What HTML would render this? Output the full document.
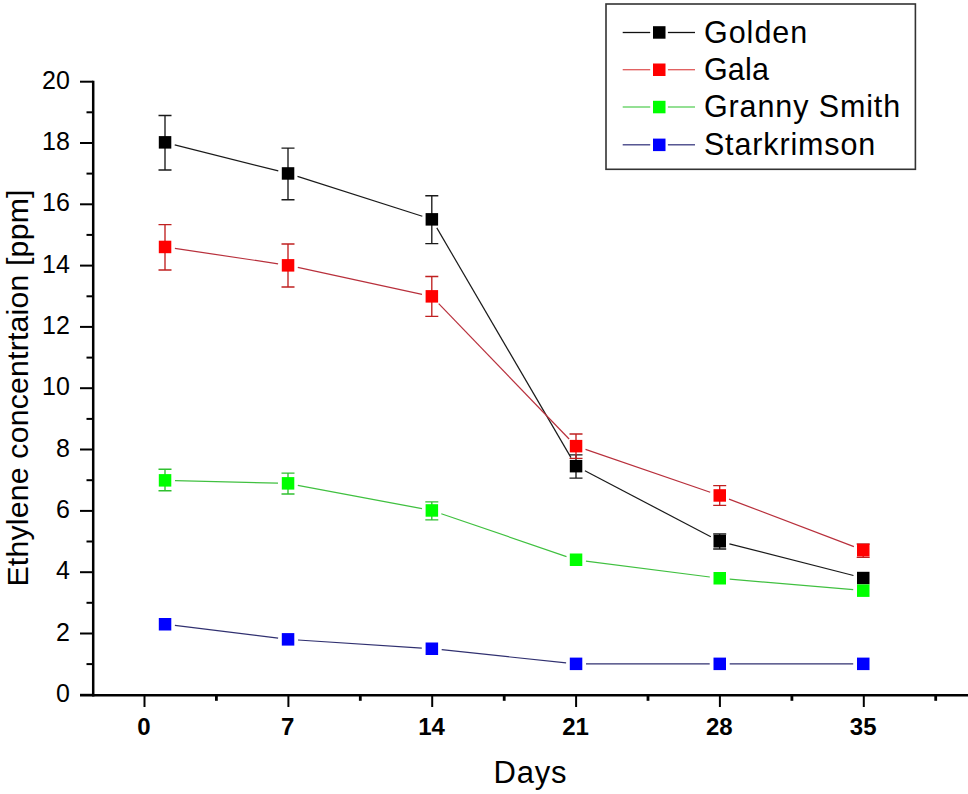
<!DOCTYPE html><html><head><meta charset="utf-8"><style>
html,body{margin:0;padding:0;background:#fff;}
body{width:968px;height:794px;overflow:hidden;position:relative;}
svg{position:absolute;left:0;top:0;}
text{font-family:"Liberation Sans",sans-serif;}
</style></head><body>
<svg width="968" height="794" viewBox="0 0 968 794">
<g stroke="#000" fill="none">
<line x1="93.2" y1="80.8" x2="93.2" y2="696.6" stroke-width="2.5"/>
<line x1="80" y1="695.2" x2="968" y2="695.2" stroke-width="2.6"/>
<line x1="80" y1="694.8" x2="93.2" y2="694.8" stroke-width="2"/>
<line x1="86.5" y1="664.1" x2="93.2" y2="664.1" stroke-width="2"/>
<line x1="80" y1="633.5" x2="93.2" y2="633.5" stroke-width="2"/>
<line x1="86.5" y1="602.8" x2="93.2" y2="602.8" stroke-width="2"/>
<line x1="80" y1="572.2" x2="93.2" y2="572.2" stroke-width="2"/>
<line x1="86.5" y1="541.5" x2="93.2" y2="541.5" stroke-width="2"/>
<line x1="80" y1="510.9" x2="93.2" y2="510.9" stroke-width="2"/>
<line x1="86.5" y1="480.2" x2="93.2" y2="480.2" stroke-width="2"/>
<line x1="80" y1="449.5" x2="93.2" y2="449.5" stroke-width="2"/>
<line x1="86.5" y1="418.9" x2="93.2" y2="418.9" stroke-width="2"/>
<line x1="80" y1="388.2" x2="93.2" y2="388.2" stroke-width="2"/>
<line x1="86.5" y1="357.6" x2="93.2" y2="357.6" stroke-width="2"/>
<line x1="80" y1="326.9" x2="93.2" y2="326.9" stroke-width="2"/>
<line x1="86.5" y1="296.3" x2="93.2" y2="296.3" stroke-width="2"/>
<line x1="80" y1="265.6" x2="93.2" y2="265.6" stroke-width="2"/>
<line x1="86.5" y1="234.9" x2="93.2" y2="234.9" stroke-width="2"/>
<line x1="80" y1="204.3" x2="93.2" y2="204.3" stroke-width="2"/>
<line x1="86.5" y1="173.6" x2="93.2" y2="173.6" stroke-width="2"/>
<line x1="80" y1="143.0" x2="93.2" y2="143.0" stroke-width="2"/>
<line x1="86.5" y1="112.3" x2="93.2" y2="112.3" stroke-width="2"/>
<line x1="80" y1="81.7" x2="93.2" y2="81.7" stroke-width="2"/>
<line x1="144.5" y1="694.8" x2="144.5" y2="707" stroke-width="2"/>
<line x1="216.4" y1="694.8" x2="216.4" y2="700.8" stroke-width="2.8"/>
<line x1="288.4" y1="694.8" x2="288.4" y2="707" stroke-width="2"/>
<line x1="360.3" y1="694.8" x2="360.3" y2="700.8" stroke-width="2.8"/>
<line x1="432.2" y1="694.8" x2="432.2" y2="707" stroke-width="2"/>
<line x1="504.2" y1="694.8" x2="504.2" y2="700.8" stroke-width="2.8"/>
<line x1="576.1" y1="694.8" x2="576.1" y2="707" stroke-width="2"/>
<line x1="648.0" y1="694.8" x2="648.0" y2="700.8" stroke-width="2.8"/>
<line x1="719.9" y1="694.8" x2="719.9" y2="707" stroke-width="2"/>
<line x1="791.9" y1="694.8" x2="791.9" y2="700.8" stroke-width="2.8"/>
<line x1="863.8" y1="694.8" x2="863.8" y2="707" stroke-width="2"/>
<line x1="935.7" y1="694.8" x2="935.7" y2="700.8" stroke-width="2.8"/>
</g>
<g font-size="25" text-anchor="end" fill="#000">
<text x="69.8" y="701.8">0</text>
<text x="69.8" y="640.5">2</text>
<text x="69.8" y="579.2">4</text>
<text x="69.8" y="517.9">6</text>
<text x="69.8" y="456.5">8</text>
<text x="69.8" y="395.2">10</text>
<text x="69.8" y="333.9">12</text>
<text x="69.8" y="272.6">14</text>
<text x="69.8" y="211.3">16</text>
<text x="69.8" y="150.0">18</text>
<text x="69.8" y="88.7">20</text>
</g>
<g font-size="24" font-weight="bold" text-anchor="middle" fill="#000">
<text x="143.9" y="735">0</text>
<text x="287.8" y="735">7</text>
<text x="431.6" y="735">14</text>
<text x="575.5" y="735">21</text>
<text x="719.3" y="735">28</text>
<text x="863.2" y="735">35</text>
</g>
<text x="493.5" y="782.7" font-size="31" textLength="73" lengthAdjust="spacing">Days</text>
<text transform="translate(28.4,586.5) rotate(-90)" font-size="30.3" textLength="397" lengthAdjust="spacing">Ethylene concentrtaion [ppm]</text>
<g>
<line x1="174.7" y1="144.8" x2="278.3" y2="170.9" stroke="#1a1a1a" stroke-width="1.2"/>
<line x1="297.5" y1="176.4" x2="422.3" y2="216.3" stroke="#1a1a1a" stroke-width="1.2"/>
<line x1="436.8" y1="227.9" x2="571.0" y2="457.6" stroke="#1a1a1a" stroke-width="1.2"/>
<line x1="584.9" y1="470.8" x2="710.8" y2="536.7" stroke="#1a1a1a" stroke-width="1.2"/>
<line x1="729.4" y1="543.8" x2="853.5" y2="575.5" stroke="#1a1a1a" stroke-width="1.2"/>
<path d="M165.0 115.5V170.0M158.5 115.5H171.5M158.5 170.0H171.5" stroke="#1a1a1a" stroke-width="1.35" fill="none"/>
<rect x="158.8" y="136.1" width="12.5" height="12.5" fill="#000000"/>
<path d="M288.0 148.1V199.7M281.5 148.1H294.5M281.5 199.7H294.5" stroke="#1a1a1a" stroke-width="1.35" fill="none"/>
<rect x="281.8" y="167.2" width="12.5" height="12.5" fill="#000000"/>
<path d="M431.8 195.7V243.6M425.3 195.7H438.3M425.3 243.6H438.3" stroke="#1a1a1a" stroke-width="1.35" fill="none"/>
<rect x="425.6" y="213.1" width="12.5" height="12.5" fill="#000000"/>
<path d="M576.0 454.8V478.1M569.5 454.8H582.5M569.5 478.1H582.5" stroke="#1a1a1a" stroke-width="1.35" fill="none"/>
<rect x="569.8" y="459.9" width="12.5" height="12.5" fill="#000000"/>
<path d="M719.7 534.0V549.0M713.2 534.0H726.2M713.2 549.0H726.2" stroke="#1a1a1a" stroke-width="1.35" fill="none"/>
<rect x="713.5" y="535.0" width="12.5" height="12.5" fill="#000000"/>
<rect x="857.0" y="571.8" width="12.5" height="12.5" fill="#000000"/>
</g>
<g>
<line x1="174.9" y1="248.4" x2="278.1" y2="263.8" stroke="#b8303c" stroke-width="1.2"/>
<line x1="297.8" y1="267.4" x2="422.0" y2="294.3" stroke="#b8303c" stroke-width="1.2"/>
<line x1="438.7" y1="303.6" x2="569.1" y2="439.0" stroke="#b8303c" stroke-width="1.2"/>
<line x1="585.5" y1="449.4" x2="710.2" y2="492.3" stroke="#b8303c" stroke-width="1.2"/>
<line x1="729.0" y1="499.1" x2="853.9" y2="546.6" stroke="#b8303c" stroke-width="1.2"/>
<path d="M165.0 224.6V270.0M158.5 224.6H171.5M158.5 270.0H171.5" stroke="#c02020" stroke-width="1.35" fill="none"/>
<rect x="158.8" y="240.7" width="12.5" height="12.5" fill="#ff0000"/>
<path d="M288.0 244.0V287.0M281.5 244.0H294.5M281.5 287.0H294.5" stroke="#c02020" stroke-width="1.35" fill="none"/>
<rect x="281.8" y="259.1" width="12.5" height="12.5" fill="#ff0000"/>
<path d="M431.8 276.5V316.3M425.3 276.5H438.3M425.3 316.3H438.3" stroke="#c02020" stroke-width="1.35" fill="none"/>
<rect x="425.6" y="290.1" width="12.5" height="12.5" fill="#ff0000"/>
<path d="M576.0 434.0V458.3M569.5 434.0H582.5M569.5 458.3H582.5" stroke="#c02020" stroke-width="1.35" fill="none"/>
<rect x="569.8" y="439.9" width="12.5" height="12.5" fill="#ff0000"/>
<path d="M719.7 485.6V505.3M713.2 485.6H726.2M713.2 505.3H726.2" stroke="#c02020" stroke-width="1.35" fill="none"/>
<rect x="713.5" y="489.2" width="12.5" height="12.5" fill="#ff0000"/>
<path d="M863.2 544.0V557.3M856.7 544.0H869.7M856.7 557.3H869.7" stroke="#c02020" stroke-width="1.35" fill="none"/>
<rect x="857.0" y="544.0" width="12.5" height="12.5" fill="#ff0000"/>
</g>
<g>
<line x1="175.0" y1="480.6" x2="278.0" y2="483.2" stroke="#40c040" stroke-width="1.2"/>
<line x1="297.8" y1="485.3" x2="422.0" y2="508.6" stroke="#40c040" stroke-width="1.2"/>
<line x1="441.3" y1="513.7" x2="566.5" y2="556.6" stroke="#40c040" stroke-width="1.2"/>
<line x1="585.9" y1="561.1" x2="709.8" y2="577.0" stroke="#40c040" stroke-width="1.2"/>
<line x1="729.7" y1="579.2" x2="853.2" y2="589.7" stroke="#40c040" stroke-width="1.2"/>
<path d="M165.0 469.2V490.7M158.5 469.2H171.5M158.5 490.7H171.5" stroke="#30c030" stroke-width="1.35" fill="none"/>
<rect x="158.8" y="474.1" width="12.5" height="12.5" fill="#00ff00"/>
<path d="M288.0 473.1V494.0M281.5 473.1H294.5M281.5 494.0H294.5" stroke="#30c030" stroke-width="1.35" fill="none"/>
<rect x="281.8" y="477.1" width="12.5" height="12.5" fill="#00ff00"/>
<path d="M431.8 501.9V519.8M425.3 501.9H438.3M425.3 519.8H438.3" stroke="#30c030" stroke-width="1.35" fill="none"/>
<rect x="425.6" y="504.2" width="12.5" height="12.5" fill="#00ff00"/>
<rect x="569.8" y="553.5" width="12.5" height="12.5" fill="#00ff00"/>
<rect x="713.5" y="572.0" width="12.5" height="12.5" fill="#00ff00"/>
<rect x="857.0" y="584.4" width="12.5" height="12.5" fill="#00ff00"/>
</g>
<g>
<line x1="174.9" y1="625.4" x2="278.1" y2="638.2" stroke="#303070" stroke-width="1.2"/>
<line x1="298.0" y1="640.0" x2="421.8" y2="648.1" stroke="#303070" stroke-width="1.2"/>
<line x1="441.7" y1="649.7" x2="566.1" y2="662.9" stroke="#303070" stroke-width="1.2"/>
<line x1="586.0" y1="663.9" x2="709.7" y2="663.9" stroke="#303070" stroke-width="1.2"/>
<line x1="729.7" y1="663.9" x2="853.2" y2="663.9" stroke="#303070" stroke-width="1.2"/>
<rect x="158.8" y="618.0" width="12.5" height="12.5" fill="#0000ff"/>
<rect x="281.8" y="633.1" width="12.5" height="12.5" fill="#0000ff"/>
<rect x="425.6" y="642.5" width="12.5" height="12.5" fill="#0000ff"/>
<rect x="569.8" y="657.6" width="12.5" height="12.5" fill="#0000ff"/>
<rect x="713.5" y="657.6" width="12.5" height="12.5" fill="#0000ff"/>
<rect x="857.0" y="657.6" width="12.5" height="12.5" fill="#0000ff"/>
</g>
<rect x="606" y="4" width="309.4" height="165.3" fill="#fff" stroke="#333" stroke-width="1.6"/>
<line x1="622.7" y1="32.5" x2="650.2" y2="32.5" stroke="#111111" stroke-width="1.3"/>
<line x1="667.9" y1="32.5" x2="695" y2="32.5" stroke="#111111" stroke-width="1.3"/>
<rect x="653.0" y="26.2" width="12.5" height="12.5" fill="#000000"/>
<text x="703.9" y="42.7" font-size="30.5" textLength="103.4" lengthAdjust="spacing">Golden</text>
<line x1="622.7" y1="69.7" x2="650.2" y2="69.7" stroke="#e05a5a" stroke-width="1.3"/>
<line x1="667.9" y1="69.7" x2="695" y2="69.7" stroke="#e05a5a" stroke-width="1.3"/>
<rect x="653.0" y="63.5" width="12.5" height="12.5" fill="#ff0000"/>
<text x="703.9" y="79.9" font-size="30.5" textLength="65.0" lengthAdjust="spacing">Gala</text>
<line x1="622.7" y1="107.0" x2="650.2" y2="107.0" stroke="#5ad05a" stroke-width="1.3"/>
<line x1="667.9" y1="107.0" x2="695" y2="107.0" stroke="#5ad05a" stroke-width="1.3"/>
<rect x="653.0" y="100.8" width="12.5" height="12.5" fill="#00ff00"/>
<text x="703.9" y="117.2" font-size="30.5" textLength="196.3" lengthAdjust="spacing">Granny Smith</text>
<line x1="622.7" y1="144.8" x2="650.2" y2="144.8" stroke="#3a3a80" stroke-width="1.3"/>
<line x1="667.9" y1="144.8" x2="695" y2="144.8" stroke="#3a3a80" stroke-width="1.3"/>
<rect x="653.0" y="138.6" width="12.5" height="12.5" fill="#0000ff"/>
<text x="703.9" y="155.0" font-size="30.5" textLength="171.3" lengthAdjust="spacing">Starkrimson</text>
</svg></body></html>
